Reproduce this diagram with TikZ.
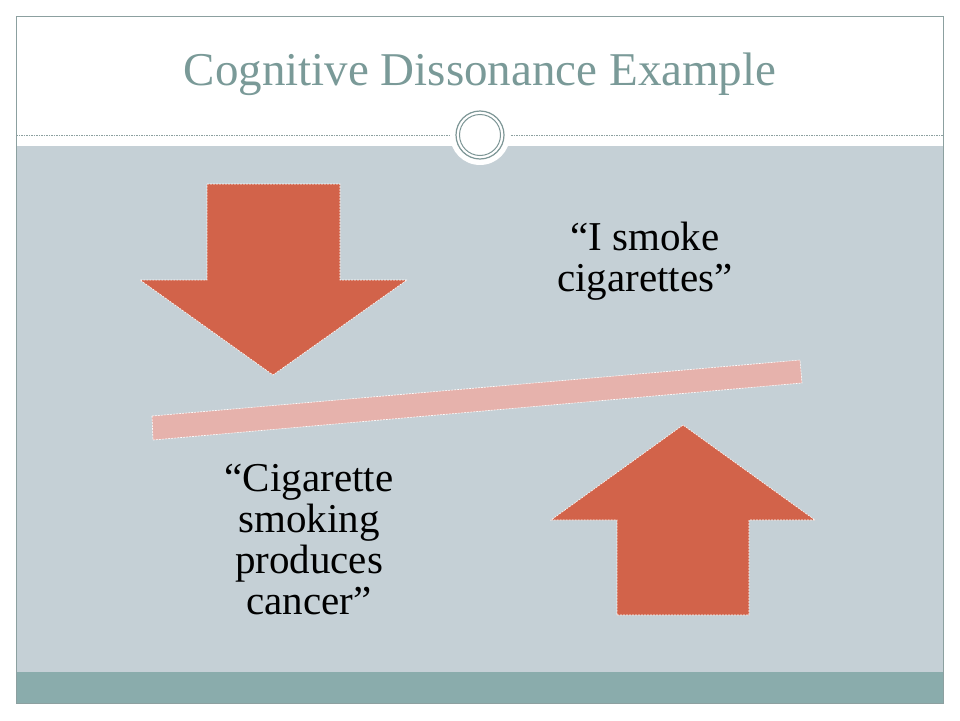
\documentclass[tikz,border=0pt]{standalone}
\usepackage{fontspec}
\setmainfont{Liberation Serif}
\definecolor{slidegray}{RGB}{197,208,214}
\definecolor{bandteal}{RGB}{138,172,172}
\definecolor{titleteal}{RGB}{122,154,152}
\definecolor{ringteal}{RGB}{125,150,150}
\definecolor{arrowred}{RGB}{210,99,74}
\definecolor{barpink}{RGB}{230,178,172}
\definecolor{framegray}{RGB}{140,160,160}

\begin{document}
\begin{tikzpicture}[x=1pt,y=-1pt]
	\tikzstyle{blockshape}=[draw=white,line width=0.6pt,dash pattern=on 2pt off 1pt]
	\tikzstyle{words}=[align=center,font=\fontsize{41}{41}\selectfont]
		\useasboundingbox[fill=white] (0,0) rectangle (960,720);
		% slide frame
		\fill[slidegray] (16,146) rectangle (943,672);
		\fill[bandteal] (16,672) rectangle (943,703);
		\draw[framegray,line width=1pt] (16,16) rectangle (943,703);
		\draw[framegray,dash pattern=on 1.5pt off 1pt,line width=0.7pt] (16,135) -- (943,135);
		\fill[white] (480,135) circle (30);
		\draw[ringteal,line width=1.2pt] (480,135) circle (24);
		\draw[ringteal,line width=1pt] (480,135) circle (20.5);
		\node (title) at (480,74) {\fontsize{47}{50}\selectfont\color{titleteal}Cognitive Dissonance Example};
		% arrows and bar
		\filldraw[fill=arrowred,blockshape] (207,184) -- (340,184) -- (340,280) -- (407,280) -- (273,375) -- (140,280) -- (207,280) -- cycle;
		\filldraw[fill=arrowred,blockshape] (617,615) -- (749,615) -- (749,520) -- (815,520) -- (683,425) -- (551,520) -- (617,520) -- cycle;
		\filldraw[fill=barpink,blockshape] (152,416) -- (800,360) -- (802,383) -- (153,440) -- cycle;
		% statements
		\node[words] (smoke) at (645,261) {``I smoke\\cigarettes''};
		\node[words] (cancer) at (309,540) {``Cigarette\\smoking\\produces\\cancer''};
\end{tikzpicture}
\end{document}
